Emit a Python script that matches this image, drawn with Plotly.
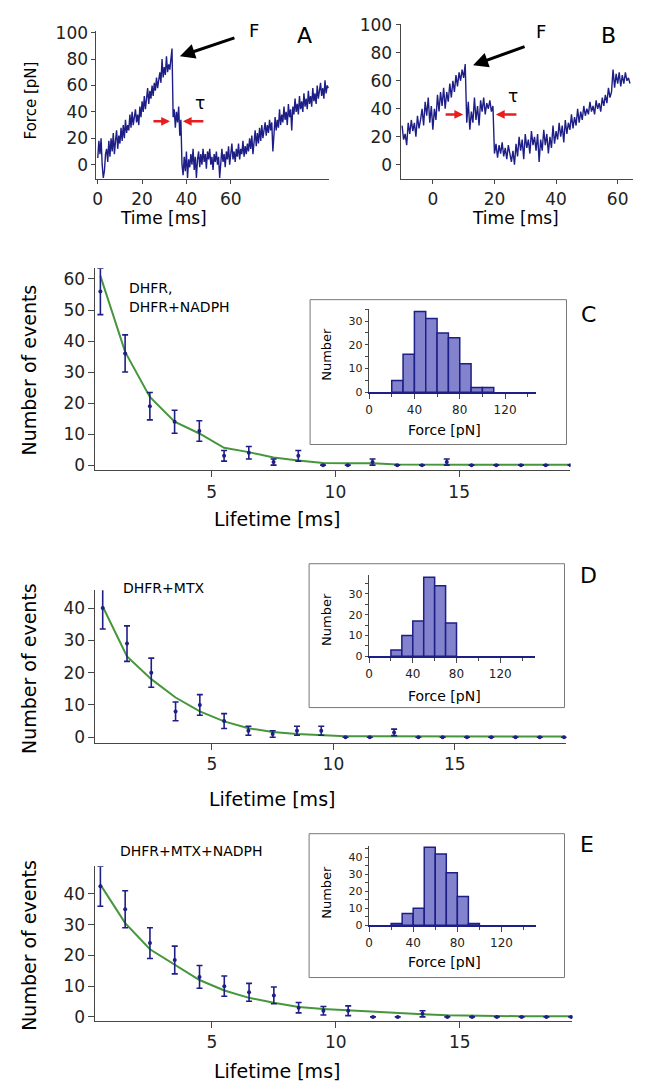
import plotly.graph_objects as go

# ---- panels A and B: force traces, one sample every 0.5 ms ----
dt = 0.5
a_start = 0
force_a = [
    5, 18, 8, 20, 0, -10, -5, 8,
    12, 2, 18, 6, 20, 10, 24, 8, 18, 26, 12, 22, 16, 28, 18, 30, 20, 34, 24, 30,
    26, 38, 28, 40, 30, 36, 42, 32, 38, 30, 44, 36, 48, 40, 52, 42, 50, 58, 46, 56,
    50, 60, 52, 62, 56, 66, 58, 64, 70, 62, 80, 66, 74, 68, 82, 70, 76, 72, 80, 88,
    36, 42, 28, 40, 32, 44, 22, 34,
    0, -8, 6, -5, 10, -10, 4, -2, 8, 0, 12, -4, 6, -10, 4, 10, -2, 8, 0, 12,
    2, 8, -3, 10, 4, 12, 0, 6, -4, 8, 2, 10, 0, 6, -10, 4, 12, 2, 8, -2,
    10, 4, 14, 0, 8, 16, 4, 10, 2, 12, 6, 16, 4, 12, 8, 18, 6, 14, 8, 16,
    10, 20, 12, 22, 8, 18, 26, 14, 24, 16, 28, 18, 30, 20, 26, 32, 22, 30, 24, 34,
    26, 32, 10, 28, 36, 26, 34, 28, 42, 30, 38, 32, 44, 34, 40, 30, 46, 36, 42, 26,
    44, 38, 50, 40, 46, 38, 52, 42, 48, 40, 54, 44, 50, 42, 56, 46, 52, 44, 58, 48,
    54, 46, 60, 50, 56, 62, 52, 58, 50, 64, 54, 60, 58,
]
b_start = -10
force_b = [
    28, 18, 22, 14, 30, 22, 32, 24, 30, 20, 35, 26, 32, 40, 28, 45, 35, 48, 30, 42,
    25, 40, 32, 50, 38, 52, 42, 55, 40, 52, 45, 58, 48, 60, 52, 64, 56, 66, 60, 68, 62, 72,
    30, 45, 25, 38, 30, 48, 32, 42, 28, 46, 38, 48, 36, 44, 40, 46, 38, 42,
    8, 15, 5, 14, 8, 16, 6, 12, 4, 14, 8, 2, 10, 0, 15, 6,
    20, 10, 18, 4, 22, 12, 18, 8, 24, 14, 20, 10, 22, 2, 18, 10, 25, 14, 22, 8,
    20, 12, 28, 15, 24, 18, 30, 20, 28, 16, 32, 22, 30, 25, 36, 26, 34, 28, 40, 30,
    38, 32, 42, 35, 40, 36, 45, 38, 42, 36, 46, 40, 44, 38, 48, 42, 50, 44, 55, 48,
    52, 68, 55, 65, 58, 66, 56, 64, 58, 66, 60, 62, 58,
]
time_a = [a_start + dt * i for i in range(len(force_a))]
time_b = [b_start + dt * i for i in range(len(force_b))]

# ---- panels C, D, E: lifetime histograms with fits ----
lifetime = [0.5, 1.5, 2.5, 3.5, 4.5, 5.5, 6.5, 7.5, 8.5, 9.5,
            10.5, 11.5, 12.5, 13.5, 14.5, 15.5, 16.5, 17.5, 18.5, 19.5]

c_counts = [56, 36, 19, 14, 11, 3, 4, 1, 3, 0, 0, 1, 0, 0, 1, 0, 0, 0, 0, 0]
c_err = [7.5, 6, 4.4, 3.7, 3.3, 1.7, 2, 1, 1.7, 0, 0, 1, 0, 0, 1, 0, 0, 0, 0, 0]
c_fit = [61, 36.5, 22, 14, 10.2, 5.6, 4.2, 2.5, 1.5, 0.7, 0.6, 0.6, 0.2, 0.1, 0.1, 0.1, 0.1, 0.1, 0.1, 0.1]

d_counts = [40, 29, 20, 8, 10, 5, 2, 1, 2, 2, 0, 0, 1.5, 0, 0, 0, 0, 0, 0, 0]
d_err = [6.5, 5.5, 4.5, 2.9, 3.2, 2.3, 1.4, 1, 1.4, 1.4, 0, 0, 1, 0, 0, 0, 0, 0, 0, 0]
d_fit = [40.5, 25, 18, 12.3, 8, 4.9, 2.8, 1.6, 1.0, 0.6, 0.3, 0.3, 0.3, 0.2, 0.2, 0.2, 0.2, 0.2, 0.2, 0.2]

e_counts = [42.5, 35, 24, 18.5, 13, 10, 8, 7, 3, 2, 2, 0, 0, 1, 0, 0, 0, 0, 0, 0]
e_err = [6.5, 6, 5, 4.5, 3.7, 3.3, 2.9, 2.7, 1.7, 1.4, 1.6, 0, 0, 1, 0, 0, 0, 0, 0, 0]
e_fit = [43, 30.5, 22, 17, 12, 8.6, 6.2, 4.6, 3.2, 2.6, 2.1, 1.7, 1.2, 0.85, 0.5, 0.3, 0.3, 0.2, 0.2, 0.2]

# ---- insets: rupture force histograms (10 pN bins) ----
c_force = [25, 35, 45, 55, 65, 75, 85, 95, 105]
c_number = [5, 16, 34, 31, 25, 23, 12, 2, 2]
d_force = [25, 35, 45, 55, 65, 75]
d_number = [3, 10, 17, 38, 34, 16]
e_force = [25, 35, 45, 55, 65, 75, 85, 95]
e_number = [1, 7, 10, 46, 42, 31, 17, 1]

W, H = 645, 1088
FONT = "DejaVu Sans"
NAVY = "rgb(30,30,135)"
GREEN = "rgb(70,150,60)"
LAV = "rgb(130,130,205)"
AX = "rgb(70,70,70)"
RED = "rgb(230,30,30)"


def xaxis(x0, x1, anchor, rng, tickvals, size, ticklen=6, minor=None, line=AX, lw=1):
    d = dict(domain=[x0 / W, x1 / W], anchor=anchor, range=rng, tickmode="array",
             tickvals=tickvals, ticks="outside", ticklen=ticklen, tickcolor=AX,
             showline=True, linecolor=line, linewidth=lw, showgrid=False,
             zeroline=False, tickfont=dict(family=FONT, size=size, color="#222"))
    if minor:
        d["minor"] = minor
    return d


def yaxis(y0, y1, anchor, rng, tickvals, size, ticklen=6, minor=None):
    d = dict(domain=[1 - y1 / H, 1 - y0 / H], anchor=anchor, range=rng, tickmode="array",
             tickvals=tickvals, ticks="outside", ticklen=ticklen, tickcolor=AX,
             showline=True, linecolor=AX, linewidth=1, showgrid=False,
             zeroline=False, tickfont=dict(family=FONT, size=size, color="#222"))
    if minor:
        d["minor"] = minor
    return d


def text(t, x, y, size, angle=0, anchor="center", color="black"):
    return dict(text=t, x=x / W, y=1 - y / H, xref="paper", yref="paper",
                showarrow=False, textangle=angle, xanchor=anchor, yanchor="middle",
                font=dict(family=FONT, size=size, color=color))


def arrow(xh, yh, xt, yt, color, width, size=1.0):
    return dict(text="", x=xh / W, y=1 - yh / H, xref="paper", yref="paper",
                ax=xt - xh, ay=yt - yh, showarrow=True, arrowhead=2,
                arrowsize=size, arrowwidth=width, arrowcolor=color)


fig = go.Figure()

fig.add_trace(go.Scatter(x=time_a, y=force_a, mode="lines",
                         line=dict(color=NAVY, width=1.4), xaxis="x", yaxis="y"))
fig.add_trace(go.Scatter(x=time_b, y=force_b, mode="lines",
                         line=dict(color=NAVY, width=1.4), xaxis="x2", yaxis="y2"))

panels = [(c_counts, c_err, c_fit, "3"), (d_counts, d_err, d_fit, "5"), (e_counts, e_err, e_fit, "7")]
for counts, err, fit, k in panels:
    fig.add_trace(go.Scatter(x=lifetime, y=fit, mode="lines",
                             line=dict(color=GREEN, width=2), xaxis="x" + k, yaxis="y" + k))
    fig.add_trace(go.Scatter(x=lifetime, y=counts, mode="markers",
                             marker=dict(color=NAVY, size=4),
                             error_y=dict(type="data", array=err, visible=True,
                                          color=NAVY, thickness=1.6, width=3),
                             xaxis="x" + k, yaxis="y" + k))

insets = [(c_force, c_number, "4"), (d_force, d_number, "6"), (e_force, e_number, "8")]
for force, number, k in insets:
    fig.add_trace(go.Bar(x=force, y=number, width=10,
                         marker=dict(color=LAV, line=dict(color=NAVY, width=1.5)),
                         xaxis="x" + k, yaxis="y" + k))

inset_minor_x = dict(tickvals=[20, 60, 100, 140], ticks="outside", ticklen=3, tickcolor=AX)
inset_minor_y = dict(tickvals=[5, 15, 25, 35, 45], ticks="outside", ticklen=3, tickcolor=AX)

layout = dict(
    width=W, height=H, margin=dict(l=0, r=0, t=0, b=0),
    paper_bgcolor="white", plot_bgcolor="rgba(0,0,0,0)", showlegend=False,
    xaxis=xaxis(93, 327, "y", [-0.6, 104.3], [0, 20, 40, 60], 17, 4),
    yaxis=yaxis(22, 173, "x", [-11.2, 101.5], [0, 20, 40, 60, 80, 100], 17, 4),
    xaxis2=xaxis(399, 633, "y2", [-10.5, 65], [0, 20, 40, 60], 17, 4),
    yaxis2=yaxis(15, 173, "x2", [-10.5, 100.7], [0, 20, 40, 60, 80, 100], 17, 4),
    xaxis3=xaxis(92, 570, "y3", [0.3, 19.5], [5, 10, 15], 17),
    yaxis3=yaxis(263, 468, "x3", [-1.6, 63.5], [0, 10, 20, 30, 40, 50, 60], 17),
    xaxis4=xaxis(367, 535, "y4", [-0.3, 147], [0, 40, 80, 120], 12, 5, inset_minor_x, NAVY, 2),
    yaxis4=yaxis(304.6, 389, "x4", [0, 35], [0, 10, 20, 30], 11, 3, inset_minor_y),
    xaxis5=xaxis(92, 566, "y5", [0.2, 19.6], [5, 10, 15], 17),
    yaxis5=yaxis(590, 745, "x5", [-1.8, 45.5], [0, 10, 20, 30, 40], 17),
    xaxis6=xaxis(367, 534, "y6", [-0.3, 151.5], [0, 40, 80, 120], 12, 5, inset_minor_x, NAVY, 2),
    yaxis6=yaxis(574.7, 657, "x6", [0, 39], [0, 10, 20, 30], 11, 3, inset_minor_y),
    xaxis7=xaxis(92, 572, "y7", [0.3, 19.55], [5, 10, 15], 17),
    yaxis7=yaxis(870, 1027, "x7", [-1.3, 49], [0, 10, 20, 30, 40], 17),
    xaxis8=xaxis(367, 535, "y8", [-0.3, 151], [0, 40, 80, 120], 12, 5, inset_minor_x, NAVY, 2),
    yaxis8=yaxis(849, 930, "x8", [0, 47], [0, 10, 20, 30, 40], 11, 3, inset_minor_y),
)
fig.update_layout(**layout)

boxes = [(308, 295, 566, 442), (307, 563, 564, 709), (307, 837, 564, 983)]
for x0, y0, x1, y1 in boxes:
    fig.add_shape(type="rect", xref="paper", yref="paper",
                  x0=x0 / W, x1=x1 / W, y0=1 - y1 / H, y1=1 - y0 / H,
                  line=dict(color="rgb(120,120,120)", width=1), layer="below")

notes = [
    text("Force [pN]", 27, 93, 15, -90),
    text("Time [ms]", 160, 212, 17),
    text("Time [ms]", 515, 212, 17),
    text("A", 302, 27, 22), text("B", 608, 27, 22),
    text("F", 252, 22, 18), text("F", 540, 23, 18),
    text("τ", 197, 95, 17), text("τ", 512, 88, 17),
    arrow(177, 48, 233, 29, "black", 3),
    arrow(472, 57, 525, 38, "black", 3),
    arrow(167, 114, 149, 114, RED, 2.5, 0.7),
    arrow(180, 114, 202, 114, RED, 2.5, 0.7),
    arrow(462, 107, 443, 107, RED, 2.5, 0.7),
    arrow(495, 107, 517, 107, RED, 2.5, 0.7),
    text("C", 588, 310, 22), text("D", 588, 575, 22), text("E", 587, 848, 22),
    text("DHFR,", 124, 283, 14, anchor="left"),
    text("DHFR+NADPH", 124, 302, 14, anchor="left"),
    text("DHFR+MTX", 118, 588, 14, anchor="left"),
    text("DHFR+MTX+NADPH", 115, 855, 14, anchor="left"),
    text("Number of events", 25, 366, 19, -90),
    text("Number of events", 25, 669, 19, -90),
    text("Number of events", 25, 950, 19, -90),
    text("Lifetime [ms]", 275, 518, 19),
    text("Lifetime [ms]", 270, 802, 19),
    text("Lifetime [ms]", 275, 1078, 19),
    text("Number", 325, 350, 13, -90),
    text("Number", 325, 619, 13, -90),
    text("Number", 325, 896, 13, -90),
    text("Force [pN]", 443, 427, 14),
    text("Force [pN]", 443, 697, 14),
    text("Force [pN]", 443, 967, 14),
]
fig.update_layout(annotations=notes)

# the page body has a default margin; drop it so the figure sits at the window origin
fig.write_html("out.html", config={"displayModeBar": False},
               post_script="document.body.style.margin='0px';")
